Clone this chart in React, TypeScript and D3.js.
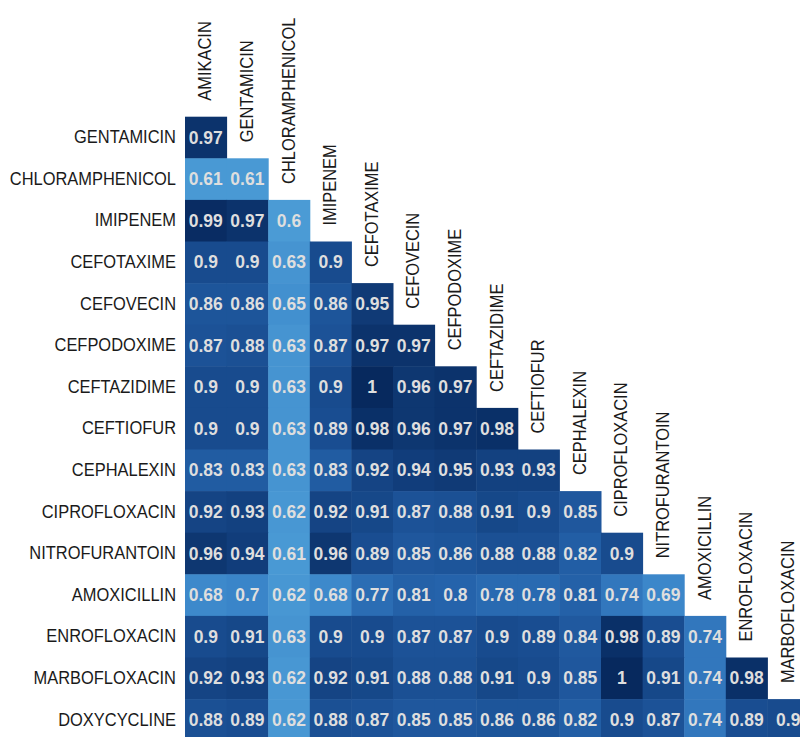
import React from "react";
import * as d3 from "d3";

const columns = [
  "AMIKACIN", "GENTAMICIN", "CHLORAMPHENICOL", "IMIPENEM", "CEFOTAXIME",
  "CEFOVECIN", "CEFPODOXIME", "CEFTAZIDIME", "CEFTIOFUR", "CEPHALEXIN",
  "CIPROFLOXACIN", "NITROFURANTOIN", "AMOXICILLIN", "ENROFLOXACIN", "MARBOFLOXACIN",
];
const rows = [
  "GENTAMICIN", "CHLORAMPHENICOL", "IMIPENEM", "CEFOTAXIME", "CEFOVECIN",
  "CEFPODOXIME", "CEFTAZIDIME", "CEFTIOFUR", "CEPHALEXIN", "CIPROFLOXACIN",
  "NITROFURANTOIN", "AMOXICILLIN", "ENROFLOXACIN", "MARBOFLOXACIN", "DOXYCYCLINE",
];
const values: number[][] = [
  [0.97],
  [0.61, 0.61],
  [0.99, 0.97, 0.6],
  [0.9, 0.9, 0.63, 0.9],
  [0.86, 0.86, 0.65, 0.86, 0.95],
  [0.87, 0.88, 0.63, 0.87, 0.97, 0.97],
  [0.9, 0.9, 0.63, 0.9, 1, 0.96, 0.97],
  [0.9, 0.9, 0.63, 0.89, 0.98, 0.96, 0.97, 0.98],
  [0.83, 0.83, 0.63, 0.83, 0.92, 0.94, 0.95, 0.93, 0.93],
  [0.92, 0.93, 0.62, 0.92, 0.91, 0.87, 0.88, 0.91, 0.9, 0.85],
  [0.96, 0.94, 0.61, 0.96, 0.89, 0.85, 0.86, 0.88, 0.88, 0.82, 0.9],
  [0.68, 0.7, 0.62, 0.68, 0.77, 0.81, 0.8, 0.78, 0.78, 0.81, 0.74, 0.69],
  [0.9, 0.91, 0.63, 0.9, 0.9, 0.87, 0.87, 0.9, 0.89, 0.84, 0.98, 0.89, 0.74],
  [0.92, 0.93, 0.62, 0.92, 0.91, 0.88, 0.88, 0.91, 0.9, 0.85, 1, 0.91, 0.74, 0.98],
  [0.88, 0.89, 0.62, 0.88, 0.87, 0.85, 0.85, 0.86, 0.86, 0.82, 0.9, 0.87, 0.74, 0.89, 0.9],
];
const colorStops = [0.6, 0.7, 0.8, 0.9, 1.0];
const colorRange = ["#4b9bd5", "#3a85c9", "#2563ab", "#184b8e", "#07295e"];

const W = 800;
const H = 737;
const X0 = 185;
const Y0 = 116.7;
const CELL = 41.6;

export default function App() {
  const x = d3.scaleBand<string>().domain(columns).range([X0, X0 + CELL * columns.length]);
  const y = d3.scaleBand<string>().domain(rows).range([Y0, Y0 + CELL * rows.length]);
  const color = d3.scaleLinear<string>().domain(colorStops).range(colorRange).clamp(true);
  const fmt = (v: number) => String(+v.toFixed(2));
  const labelFont = "'Liberation Sans', Arial, sans-serif";

  const cells: { r: string; c: string; v: number }[] = [];
  values.forEach((row, i) => row.forEach((v, j) => cells.push({ r: rows[i], c: columns[j], v })));

  return (
    <svg width={W} height={H} style={{ position: "absolute", left: 0, top: 0, background: "#fff" }}>
      <rect x={0} y={0} width={W} height={H} fill="#fff" />
      {cells.map((d, k) => (
        <rect key={"r" + k} x={x(d.c)} y={y(d.r)} width={x.bandwidth() + 0.5} height={y.bandwidth() + 0.5} fill={color(d.v)} />
      ))}
      {cells.map((d, k) => (
        <text
          key={"t" + k}
          x={(x(d.c) as number) + x.bandwidth() / 2}
          y={(y(d.r) as number) + y.bandwidth() / 2}
          textAnchor="middle"
          dominantBaseline="central"
          fontFamily={labelFont}
          fontWeight="bold"
          fontSize={17.5}
          fill="#dedede"
        >
          {fmt(d.v)}
        </text>
      ))}
      {rows.map((r) => (
        <text
          key={"rl" + r}
          transform={`translate(${X0 - 9},${(y(r) as number) + y.bandwidth() / 2}) scale(0.94,1)`}
          textAnchor="end"
          dominantBaseline="central"
          fontFamily={labelFont}
          fontSize={17.5}
          fill="#1a1a1a"
        >
          {r}
        </text>
      ))}
      {columns.map((c, j) => (
        <text
          key={"cl" + c}
          transform={`translate(${(x(c) as number) + x.bandwidth() / 2},${(y(rows[j]) as number) - 16}) rotate(-90) scale(0.94,1)`}
          textAnchor="start"
          dominantBaseline="central"
          fontFamily={labelFont}
          fontSize={17.5}
          fill="#1a1a1a"
        >
          {c}
        </text>
      ))}
    </svg>
  );
}
